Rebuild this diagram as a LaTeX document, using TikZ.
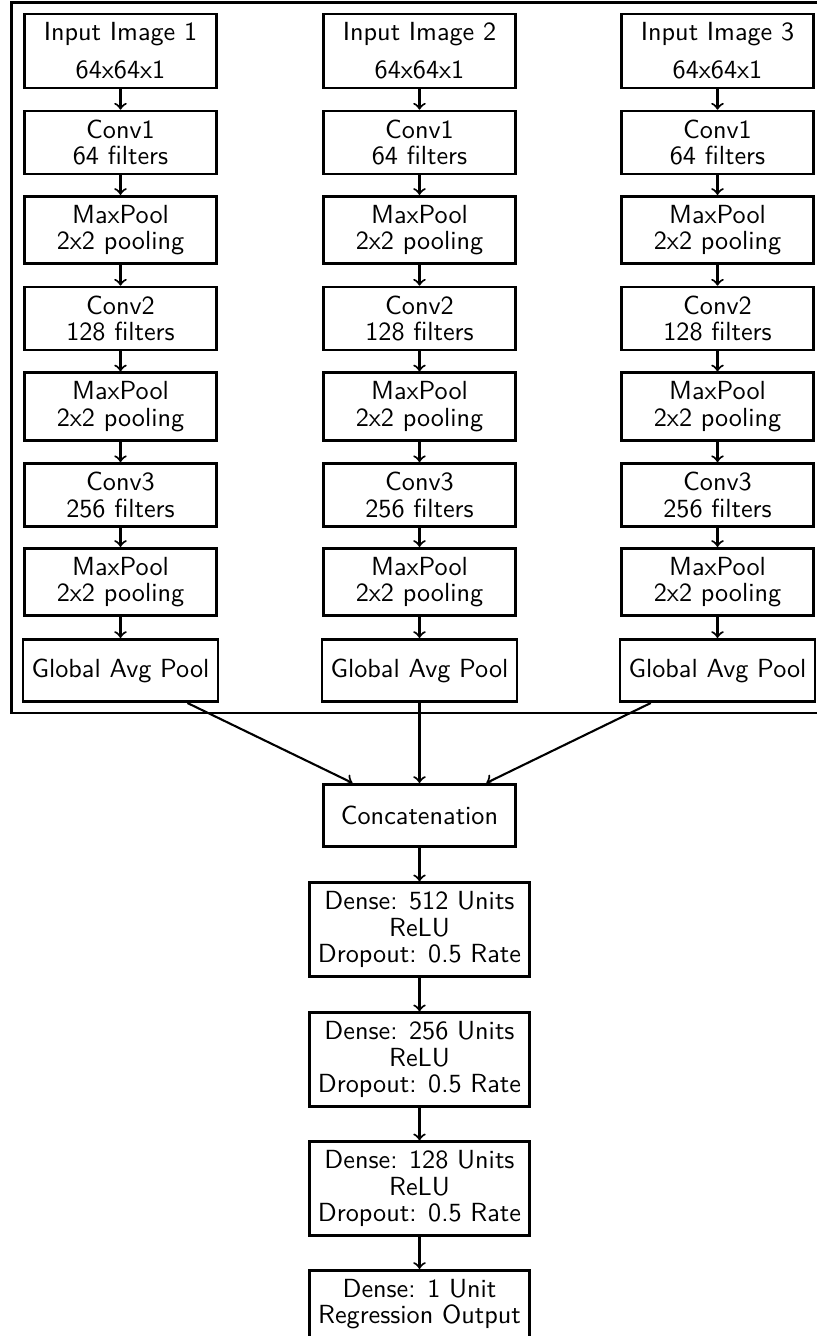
\documentclass[tikz,border=0pt]{standalone}
\usepackage{fontspec}
\usetikzlibrary{fit}
\begin{document}
\begin{tikzpicture}[x=0.3817pt,y=-0.3817pt,
  layer/.style={draw, line width=1pt, align=center,
    font=\sffamily\fontsize{10}{10.1}\selectfont,
    minimum width=73.5pt, minimum height=23.8pt, inner sep=3.33pt},
  widelayer/.style={layer, minimum width=0pt},
  flow/.style={->, line width=0.8pt},
  group/.style={draw, line width=1pt, inner sep=3.8pt}]
\useasboundingbox (0,0) rectangle (817,1336);

% three identical convolutional branches
\foreach \i/\x in {1/120.5,2/419.5,3/717.5}{
  \node[layer] (in\i)  at (\x,51)    {Input Image \i\\[4.4pt]64x64x1};
  \node[layer] (cv1\i) at (\x,142.5) {Conv1\\64 filters};
  \node[layer] (mp1\i) at (\x,230)   {MaxPool\\2x2 pooling};
  \node[layer] (cv2\i) at (\x,318.5) {Conv2\\128 filters};
  \node[layer] (mp2\i) at (\x,406.5) {MaxPool\\2x2 pooling};
  \node[layer] (cv3\i) at (\x,495)   {Conv3\\256 filters};
  \node[layer] (mp3\i) at (\x,582)   {MaxPool\\2x2 pooling};
  \node[widelayer] (gap\i) at (\x,670.5) {Global Avg Pool};
  \draw[flow] (in\i) -- (cv1\i);
  \draw[flow] (cv1\i) -- (mp1\i);
  \draw[flow] (mp1\i) -- (cv2\i);
  \draw[flow] (cv2\i) -- (mp2\i);
  \draw[flow] (mp2\i) -- (cv3\i);
  \draw[flow] (cv3\i) -- (mp3\i);
  \draw[flow] (mp3\i) -- (gap\i);
}

% frame around the branches
\node[group, fit=(in1)(gap1)(in3)(gap3)] (branches) {};

% merged head
\node[layer] (concat) at (419.5,815.5) {Concatenation};
\node[widelayer] (d512) at (419.5,929.5)  {Dense: 512 Units\\ReLU\\Dropout: 0.5 Rate};
\node[widelayer] (d256) at (419.5,1059.5) {Dense: 256 Units\\ReLU\\Dropout: 0.5 Rate};
\node[widelayer] (d128) at (419.5,1188.5) {Dense: 128 Units\\ReLU\\Dropout: 0.5 Rate};
\node[widelayer] (out)  at (419.5,1304)   {Dense: 1 Unit\\Regression Output};

\foreach \i in {1,2,3}{ \draw[flow] (gap\i) -- (concat); }
\draw[flow] (concat) -- (d512);
\draw[flow] (d512) -- (d256);
\draw[flow] (d256) -- (d128);
\draw[flow] (d128) -- (out);
\end{tikzpicture}
\end{document}
